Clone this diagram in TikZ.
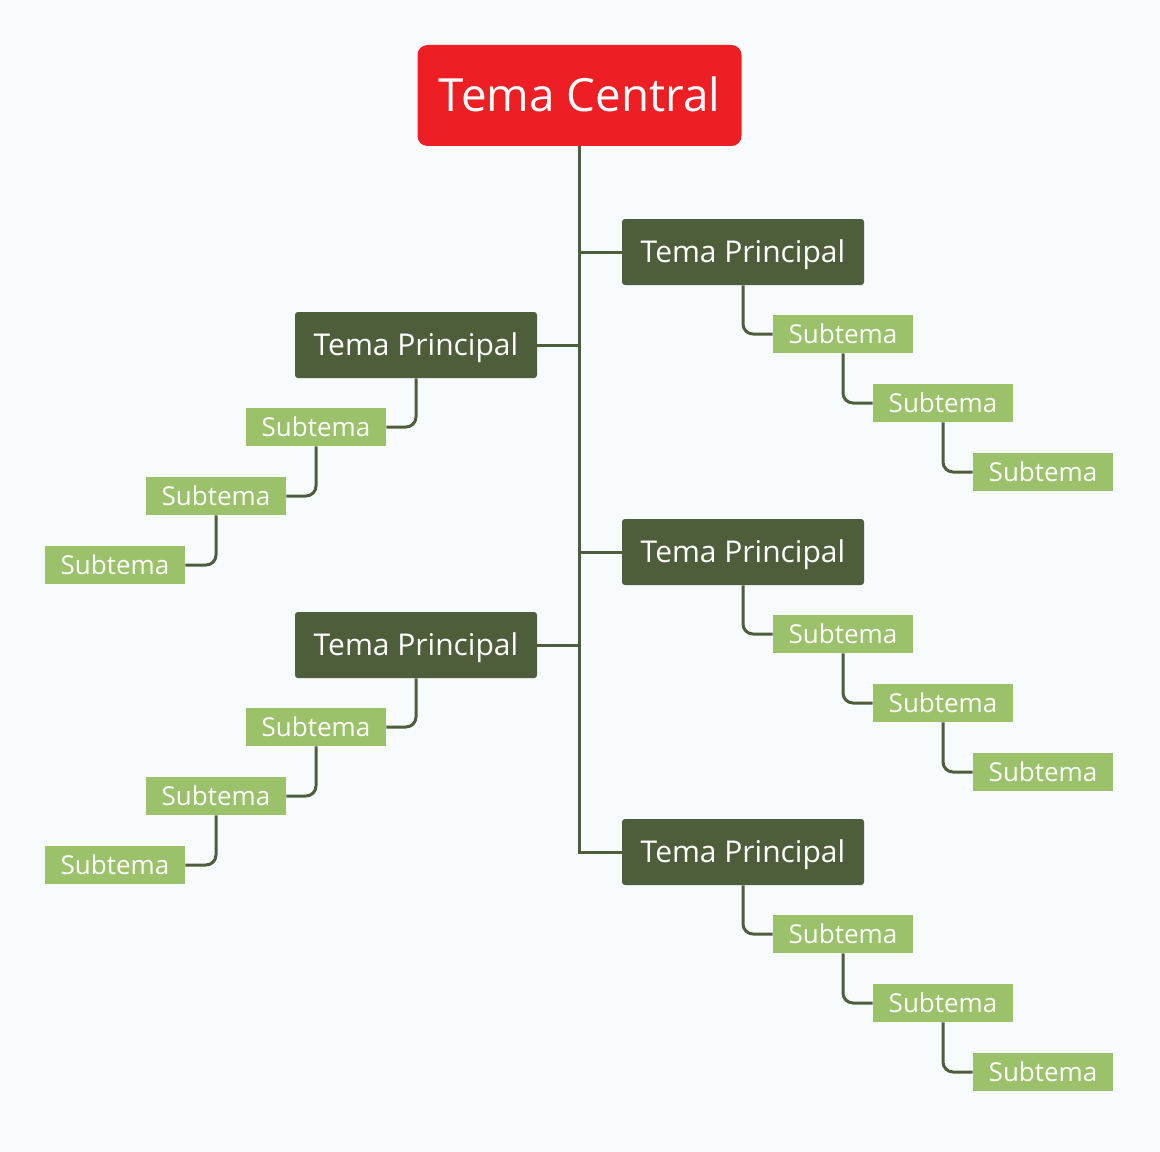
\documentclass[tikz,border=0pt]{standalone}
\usepackage{fontspec}
\setmainfont{Open Sans}
\definecolor{pagebg}{RGB}{248,251,254}
\definecolor{centralred}{RGB}{237,31,36}
\definecolor{maingreen}{RGB}{79,94,58}
\definecolor{subgreen}{RGB}{155,194,107}

\begin{document}
\begin{tikzpicture}[
  x=0.75pt, y=-0.75pt,
  central/.style={fill=centralred, text=white, rounded corners=7.5pt,
    minimum width=243pt, minimum height=75.75pt, inner sep=0pt,
    text height=24.5pt, text depth=0pt,
    font=\fontsize{34.3}{40}\selectfont},
  maintopic/.style={fill=maingreen, text=white, rounded corners=2.2pt,
    minimum width=181.5pt, minimum height=49.5pt, inner sep=0pt,
    text height=16pt, text depth=0pt,
    font=\fontsize{22.5}{27}\selectfont},
  subtopic/.style={fill=subgreen, text=white,
    minimum width=105pt, minimum height=28.5pt, inner sep=0pt,
    text height=13.9pt, text depth=0pt,
    font=\fontsize{19.5}{23}\selectfont},
  link/.style={maingreen, line width=2.25pt},
  elbow/.style={link, rounded corners=7.5pt},
]

% page background fixes the picture size
\fill[pagebg] (0,0) rectangle (1160,1152);
\useasboundingbox (0,0) rectangle (1160,1152);

% -------------------------------------------------------------------------
% Central topic and trunk
% -------------------------------------------------------------------------
\node[central] (C) at (579.5,95.5) {Tema Central};

% -------------------------------------------------------------------------
% Right-hand branches: topic, then three stepped subtopics
% -------------------------------------------------------------------------
\foreach \n/\yy in {1/252, 2/552, 3/852} {
  \node[maintopic] (R\n) at (743,\yy) {Tema Principal};
  \node[subtopic] (R\n-a) at (843,\yy+82)  {Subtema};
  \node[subtopic] (R\n-b) at (943,\yy+151) {Subtema};
  \node[subtopic] (R\n-c) at (1043,\yy+220) {Subtema};
  \draw[elbow] (R\n.south) |- (R\n-a.west);
  \draw[elbow] (R\n-a.south) |- (R\n-b.west);
  \draw[elbow] (R\n-b.south) |- (R\n-c.west);
}

% -------------------------------------------------------------------------
% Left-hand branches, mirrored
% -------------------------------------------------------------------------
\foreach \n/\yy in {1/345, 2/645} {
  \node[maintopic] (L\n) at (416,\yy) {Tema Principal};
  \node[subtopic] (L\n-a) at (316,\yy+82)  {Subtema};
  \node[subtopic] (L\n-b) at (216,\yy+151) {Subtema};
  \node[subtopic] (L\n-c) at (115,\yy+220) {Subtema};
  \draw[elbow] (L\n.south) |- (L\n-a.east);
  \draw[elbow] (L\n-a.south) |- (L\n-b.east);
  \draw[elbow] (L\n-b.south) |- (L\n-c.east);
}

% trunk ends in a square corner at the last topic
\draw[link] (C.south) |- (R3.west);
\draw[link] (R1.west) -- (R1.west -| C.south);
\draw[link] (R2.west) -- (R2.west -| C.south);
\draw[link] (L1.east) -- (L1.east -| C.south);
\draw[link] (L2.east) -- (L2.east -| C.south);

\end{tikzpicture}
\end{document}
